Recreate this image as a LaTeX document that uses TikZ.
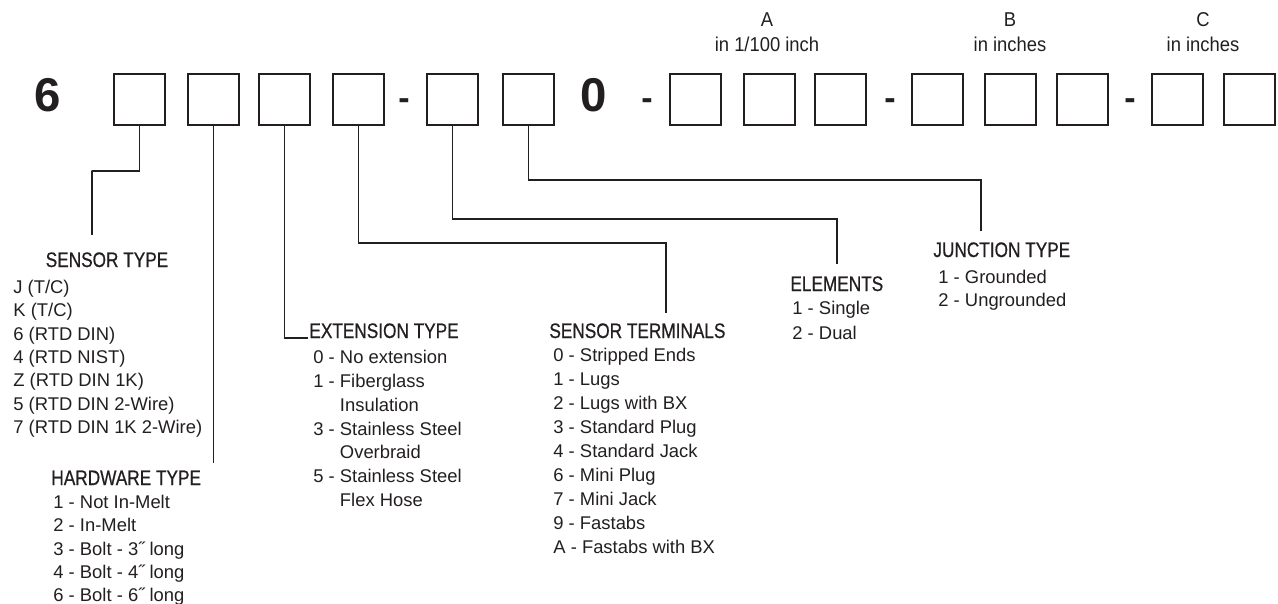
\documentclass[tikz,border=0pt]{standalone}
\usepackage{fontspec}
\setmainfont{Liberation Sans}
\newfontfamily\condfont[FakeStretch=0.82, FakeBold=0.6]{Liberation Sans}
\newfontfamily\capfont[FakeStretch=0.92]{Liberation Sans}
\usetikzlibrary{calc}
\definecolor{ink}{HTML}{231F20}

\tikzset{
  digitbox/.style={rectangle, draw=ink, line width=1pt, minimum width=25.5pt, minimum height=25.5pt, inner sep=0pt},
  heading/.style={inner sep=0pt, text=ink, font=\condfont\fontsize{10.5}{12}\selectfont},
  option/.style={inner sep=0pt, anchor=base west, text=ink, font=\fontsize{9.2}{11}\selectfont},
  dimlabel/.style={inner sep=0pt, anchor=base, text=ink, font=\capfont\fontsize{10}{12}\selectfont},
  fixed/.style={inner sep=0pt, anchor=base, text=ink, font=\bfseries\fontsize{23.7}{24}\selectfont},
  sep/.style={inner sep=0pt, anchor=base, text=ink, font=\bfseries\fontsize{17}{17}\selectfont},
  wire/.style={draw=ink, line width=0.85pt}
}

\begin{document}
\begin{tikzpicture}[x=0.5pt, y=-0.5pt]
      \path[fill=white, use as bounding box] (0,0) rectangle (1278,604);

      % Part number: fixed digits, boxes and dashes
      \node[fixed] (six) at (47.5,112) {6};
      \node[fixed] (zero) at (594,112) {0};
      \foreach \x [count=\i] in {139.5,213.5,284.5,358.5,452.5,528.5,695,769,840,937.5,1010,1082,1177.5,1249}
        \node[digitbox] (b\i) at (\x,99.5) {};
      \foreach \x [count=\i] in {404,647,890,1130}
        \node[sep] (dash\i) at (\x,109.5) {-};

      % Dimension labels
      \node[dimlabel] (dimA) at (767,27) {A};
      \node[dimlabel] (dimAunit) at (767,52) {in 1/100 inch};
      \node[dimlabel] (dimB) at (1010,27) {B};
      \node[dimlabel] (dimBunit) at (1010,52) {in inches};
      \node[dimlabel] (dimC) at (1203,27) {C};
      \node[dimlabel] (dimCunit) at (1203,52) {in inches};

      % Sensor type
      \node[heading, anchor=base] (hsens) at (107,267) {SENSOR TYPE};
      \foreach \opt [count=\i] in {{J (T/C)}, {K (T/C)}, {6 (RTD DIN)}, {4 (RTD NIST)}, {Z (RTD DIN 1K)}, {5 (RTD DIN 2-Wire)}, {7 (RTD DIN 1K 2-Wire)}}
        \node[option] (sens\i) at (13,{293.6+23.3*(\i-1)}) {\opt};

      % Hardware type
      \node[heading, anchor=base west] (hhard) at (51,485) {HARDWARE TYPE};
      \foreach \opt [count=\i] in {1 - Not In-Melt, 2 - In-Melt, 3 - Bolt - 3˝ long, 4 - Bolt - 4˝ long, 6 - Bolt - 6˝ long}
        \node[option] (hard\i) at (53,{508.6+23.3*(\i-1)}) {\opt};

      % Extension type
      \node[heading, anchor=base west] (hext) at (309,338) {EXTENSION TYPE};
      \foreach \opt [count=\i] in {0 - No extension, 1 - Fiberglass, \hphantom{1 - }Insulation, 3 - Stainless Steel, \hphantom{3 - }Overbraid, 5 - Stainless Steel, \hphantom{5 - }Flex Hose}
        \node[option] (ext\i) at (313,{363.6+23.8*(\i-1)}) {\opt};

      % Sensor terminals
      \node[heading, anchor=base west] (hterm) at (549,338) {SENSOR TERMINALS};
      \foreach \opt [count=\i] in {0 - Stripped Ends, 1 - Lugs, 2 - Lugs with BX, 3 - Standard Plug, 4 - Standard Jack, 6 - Mini Plug, 7 - Mini Jack, 9 - Fastabs, A - Fastabs with BX}
        \node[option] (term\i) at (553,{361.6+24*(\i-1)}) {\opt};

      % Elements
      \node[heading, anchor=base west] (helem) at (790,291) {ELEMENTS};
      \foreach \opt [count=\i] in {1 - Single, 2 - Dual}
        \node[option] (elem\i) at (792,{314.6+24.5*(\i-1)}) {\opt};

      % Junction type
      \node[heading, anchor=base west] (hjunc) at (933,257) {JUNCTION TYPE};
      \foreach \opt [count=\i] in {1 - Grounded, 2 - Ungrounded}
        \node[option] (junc\i) at (938,{283.6+23*(\i-1)}) {\opt};

      % Leader lines
      \draw[wire, shorten >=8.5pt] (b1.south) |- ++(-48,45) -| ([xshift=-7.5pt]hsens.north);
      \draw[wire, shorten >=3.5pt] (b2.south) -- (b2.south |- hhard.north);
      \draw[wire, shorten >=0.5pt] (b3.south) |- (hext.base west);
      \draw[wire, shorten >=5pt] (b4.south) -- ++(0,117) -| ([xshift=14.25pt]hterm.north);
      \draw[wire, shorten >=6pt] (b5.south) -- ++(0,93) -| (helem.north);
      \draw[wire, shorten >=5.5pt] (b6.south) -- ++(0,54) -| ([xshift=-10.5pt]hjunc.north);
    \end{tikzpicture}
\end{document}
